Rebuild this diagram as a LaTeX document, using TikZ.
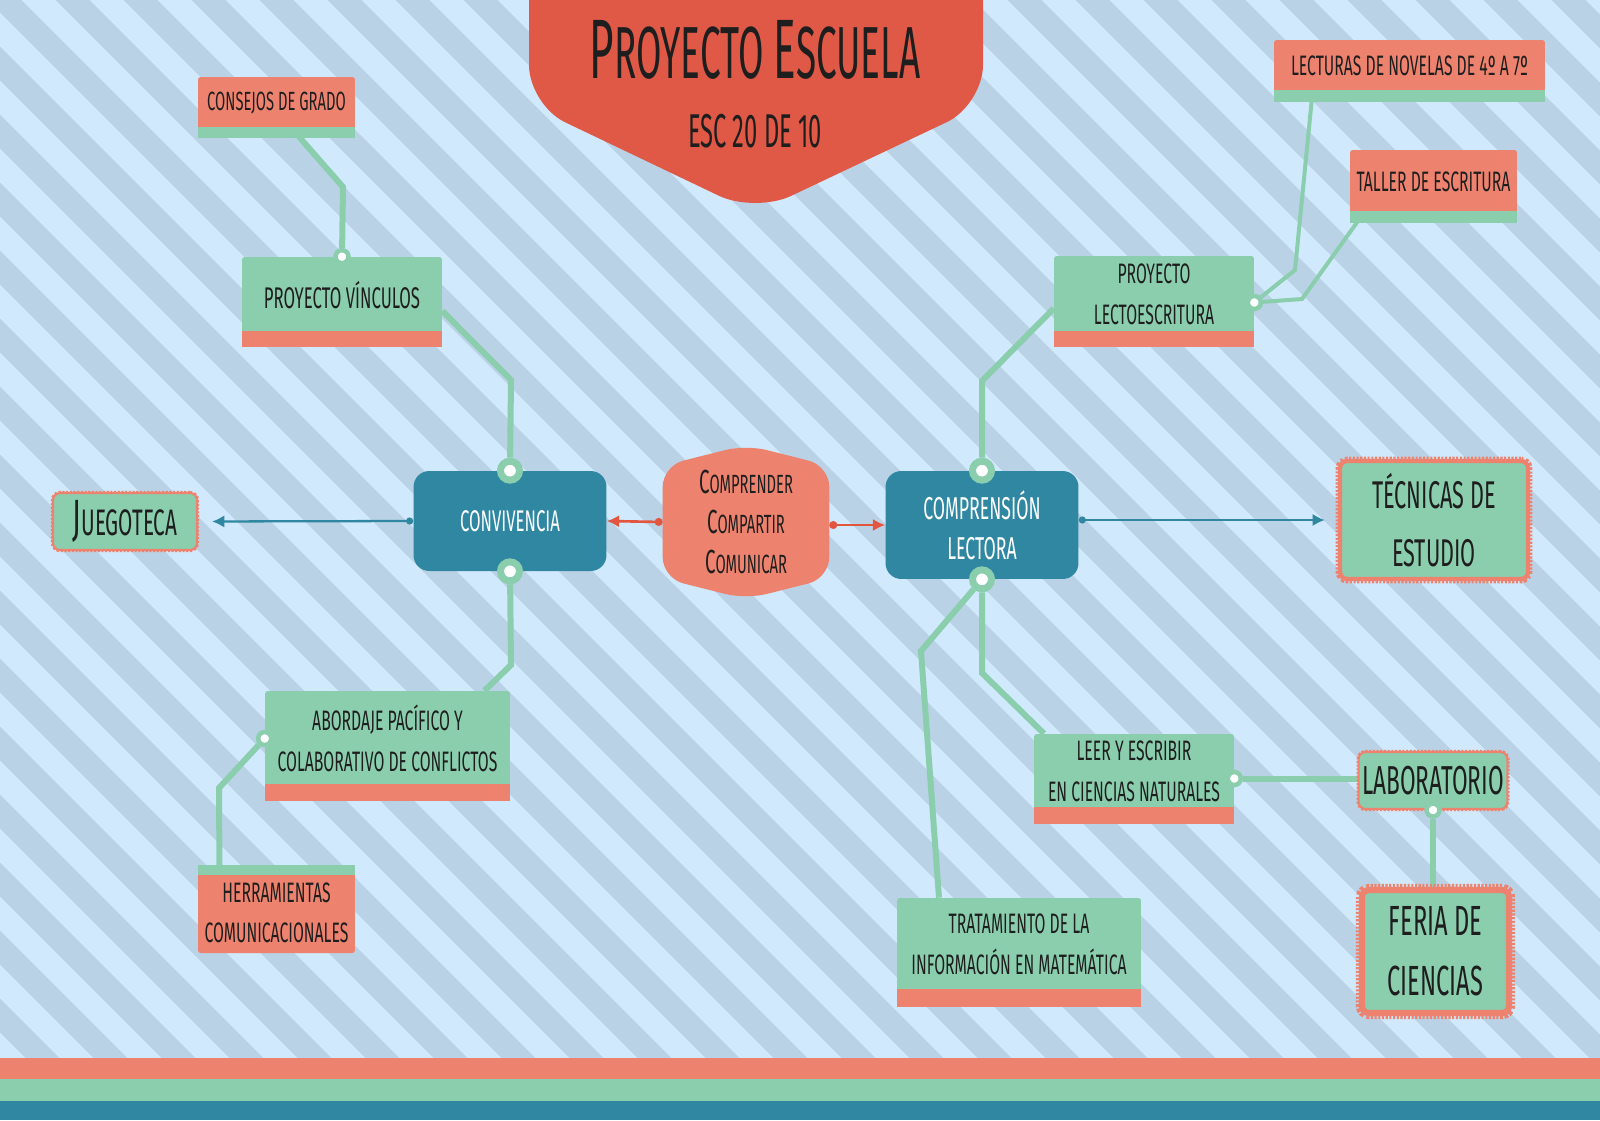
\documentclass[tikz,border=0pt]{standalone}
\usepackage{fontspec}
\setmainfont{Fira Sans}[FakeStretch=0.56]
\newfontfamily\titlefont{Fira Sans}[FakeStretch=0.5]
\usetikzlibrary{arrows.meta,positioning,calc}
\definecolor{skyc}{RGB}{209,233,252}
\definecolor{stripec}{RGB}{186,210,230}
\definecolor{salmonc}{RGB}{237,131,110}
\definecolor{mintc}{RGB}{138,206,174}
\definecolor{tealc}{RGB}{47,135,161}
\definecolor{titlec}{RGB}{224,89,71}
\definecolor{redc}{RGB}{226,86,64}
\definecolor{inkc}{RGB}{30,30,30}
\newcommand\fz[2]{\fontsize{#1}{#2}\selectfont}
\newcommand\ini[2]{{\fontsize{#1}{#1}\selectfont #2}}
\pgfdeclarelayer{back}
\pgfdeclarelayer{lines}
\pgfsetlayers{back,lines,main}

\begin{document}
\begin{tikzpicture}[x=0.02cm, y=-0.02cm,
  every node/.style={font=\fz{16}{23}, text=inkc, align=center, inner sep=2pt},
  mbox/.style={fill=mintc, rounded corners=1.5pt},
  sbox/.style={fill=salmonc, rounded corners=1.5pt},
  hub/.style={fill=tealc, text=white, rounded corners=9pt, minimum width=3.86cm},
  stamp/.style={fill=mintc, draw=salmonc, line width=#1, rounded corners=4pt, preaction={draw=salmonc, line width=2*#1, dash pattern=on 1.2pt off 0.9pt}},
  knob/.style={circle, fill=white, draw=mintc, line width=0.14cm, minimum size=0.38cm, inner sep=0},
  sknob/.style={circle, fill=white, draw=mintc, line width=0.09cm, minimum size=0.26cm, inner sep=0},
  link/.style={draw=mintc, line width=0.12cm},
  thinlink/.style={draw=mintc, line width=0.08cm},
  tarr/.style={draw=tealc, line width=1.3pt, {Circle[length=4pt]}-{Latex[length=7pt,width=7pt]}},
  rarr/.style={draw=redc, line width=1.5pt, {Circle[length=4.5pt]}-{Latex[length=7pt,width=7pt]}}]
\useasboundingbox (0,0) rectangle (1600,1120);
\begin{pgfonlayer}{back}
\fill[skyc] (0,0) rectangle (1600,1120);
\begin{scope}
\clip (0,0) rectangle (1600,1058);
\foreach \k in {-17,...,24}
  \draw[stripec, line width=0.48cm] ({4.5+68*\k-20},-20) -- ({4.5+68*\k+1140},1140);
\end{scope}
\fill[salmonc] (0,1058) rectangle (1600,1079);
\fill[mintc] (0,1079) rectangle (1600,1101);
\fill[tealc] (0,1101) rectangle (1600,1120);
\end{pgfonlayer}

\fill[titlec, rounded corners=0.8cm] (529,-40) -- (529,105) -- (755,213) -- (983,105) -- (983,-40) -- cycle;
\node[font=\titlefont\fz{42}{42}] (ttl) at (755,50) {\ini{48}{P}ROYECTO \ini{48}{E}SCUELA};
\node[font=\titlefont\fz{27}{27}] (sub) at (755,131) {ESC 20 DE 10};

\node[minimum width=3.32cm, minimum height=2.04cm, font=\fz{15}{23}] (ccc) at (746,522) {\ini{19}{C}OMPRENDER\\\ini{19}{C}OMPARTIR\\\ini{19}{C}OMUNICAR};
\node[hub, minimum height=2cm, font=\fz{17}{23}] (conv) at (510,521) {CONVIVENCIA};
\node[hub, minimum height=2.16cm, font=\fz{18}{23}] (compr) at (982,525) {COMPRENSIÓN\\LECTORA};

\node[stamp=1.2pt, minimum width=2.88cm, minimum height=1.14cm, font=\fz{21}{23}] (juego) at (125,521.5) {\ini{29}{J}UEGOTECA};
\node[stamp=2.5pt, minimum width=3.76cm, minimum height=2.36cm, font=\fz{22}{33}] (tecn) at (1434,520) {TÉCNICAS DE\\ESTUDIO};
\node[stamp=1.2pt, minimum width=2.92cm, minimum height=1.14cm, font=\fz{23}{23}] (lab) at (1433,780.5) {LABORATORIO};
\node[stamp=3.5pt, minimum width=2.94cm, minimum height=2.46cm, font=\fz{24}{34}] (feria) at (1435.5,951.5) {FERIA DE\\CIENCIAS};

\node[sbox, minimum width=3.14cm, minimum height=1.04cm, font=\fz{15}{20}] (consejos) at (276.5,103) {CONSEJOS DE GRADO};
\node[mbox, minimum width=4cm, minimum height=1.52cm, font=\fz{17}{23}] (vinc) at (342,295) {PROYECTO VÍNCULOS};
\node[mbox, minimum width=4.9cm, minimum height=1.9cm] (abord) at (387.5,738.5) {ABORDAJE PACÍFICO Y\\COLABORATIVO DE CONFLICTOS};
\node[sbox, minimum width=3.14cm, minimum height=1.6cm] (herr) at (276.5,913) {HERRAMIENTAS\\COMUNICACIONALES};
\node[mbox, minimum width=4cm, minimum height=1.54cm] (lecto) at (1154,294.5) {PROYECTO\\LECTOESCRITURA};
\node[sbox, minimum width=5.42cm, minimum height=1.04cm] (lect) at (1409.5,66) {LECTURAS DE NOVELAS DE 4º A 7º};
\node[sbox, minimum width=3.34cm, minimum height=1.26cm] (taller) at (1433.5,181.5) {TALLER DE ESCRITURA};
\node[mbox, minimum width=4cm, minimum height=1.5cm] (leer) at (1134,771.5) {LEER Y ESCRIBIR\\EN CIENCIAS NATURALES};
\node[mbox, minimum width=4.88cm, minimum height=1.86cm] (trat) at (1019,944.5) {TRATAMIENTO DE LA\\INFORMACIÓN EN MATEMÁTICA};

\foreach \nd/\col/\hh in {vinc/salmonc/14, abord/salmonc/15, lecto/salmonc/14, leer/salmonc/15, trat/salmonc/16, consejos/mintc/9, lect/mintc/10, taller/mintc/10}
  \fill[\col] ($(\nd.south west)+(0,-2)$) rectangle ($(\nd.south east)+(0,\hh)$);
\fill[mintc] ($(herr.north west)+(0,-8)$) rectangle ($(herr.north east)+(0,2)$);

\node[knob] (cvT) at (conv.north) {};
\node[knob] (cvB) at (conv.south) {};
\node[knob] (crT) at (compr.north) {};
\node[knob] (crB) at (compr.south) {};
\node[sknob] (vT) at (vinc.north) {};
\node[sknob] (aL) at (abord.west) {};
\node[sknob] (lR) at ($(lecto.east)+(0,8)$) {};
\node[sknob] (eR) at ($(leer.east)+(0,7)$) {};
\node[sknob] (lbB) at (lab.south) {};

\begin{pgfonlayer}{lines}
\fill[salmonc, rounded corners=12pt] (ccc.north west) -- ($(ccc.north)+(0,-21)$) -- (ccc.north east) -- (ccc.south east) -- ($(ccc.south)+(0,21)$) -- (ccc.south west) -- cycle;
\draw[link] (vT) -- (343,187) -- ($(consejos.south)+(16,0)$);
\draw[link] ($(vinc.east)+(0,16)$) -- (511,380) -- (cvT);
\draw[link] (cvB) -- (511,665) -- ($(abord.north)+(97,0)$);
\draw[link] (aL) -- (219,788) -- ($(herr.north)+(-57,0)$);
\draw[link] (crT) -- (982,381) -- ($(lecto.west)+(0,14)$);
\draw[thinlink] (lR) -- (1295,270) -- ($(lect.south)+(-97,0)$);
\draw[thinlink] (lR) -- (1302,299) -- ($(taller.south)+(-70,0)$);
\draw[link] (crB) -- (982,673) -- ($(leer.north)+(-90,0)$);
\draw[link] (crB) -- (921,651) -- ($(trat.north)+(-80,0)$);
\draw[link] (eR) -- (eR -| lab.west);
\draw[link] (lbB) -- (lbB |- feria.north);
\end{pgfonlayer}

\draw[tarr, shorten >=0.28cm] (conv.west) -- (juego.east);
\draw[tarr, shorten >=0.26cm] (compr.east |- tecn.west) -- (tecn.west);
\draw[rarr] (ccc.west) -- (conv.east);
\draw[rarr] (ccc.east |- compr.west) -- (compr.west);
\end{tikzpicture}
\end{document}
